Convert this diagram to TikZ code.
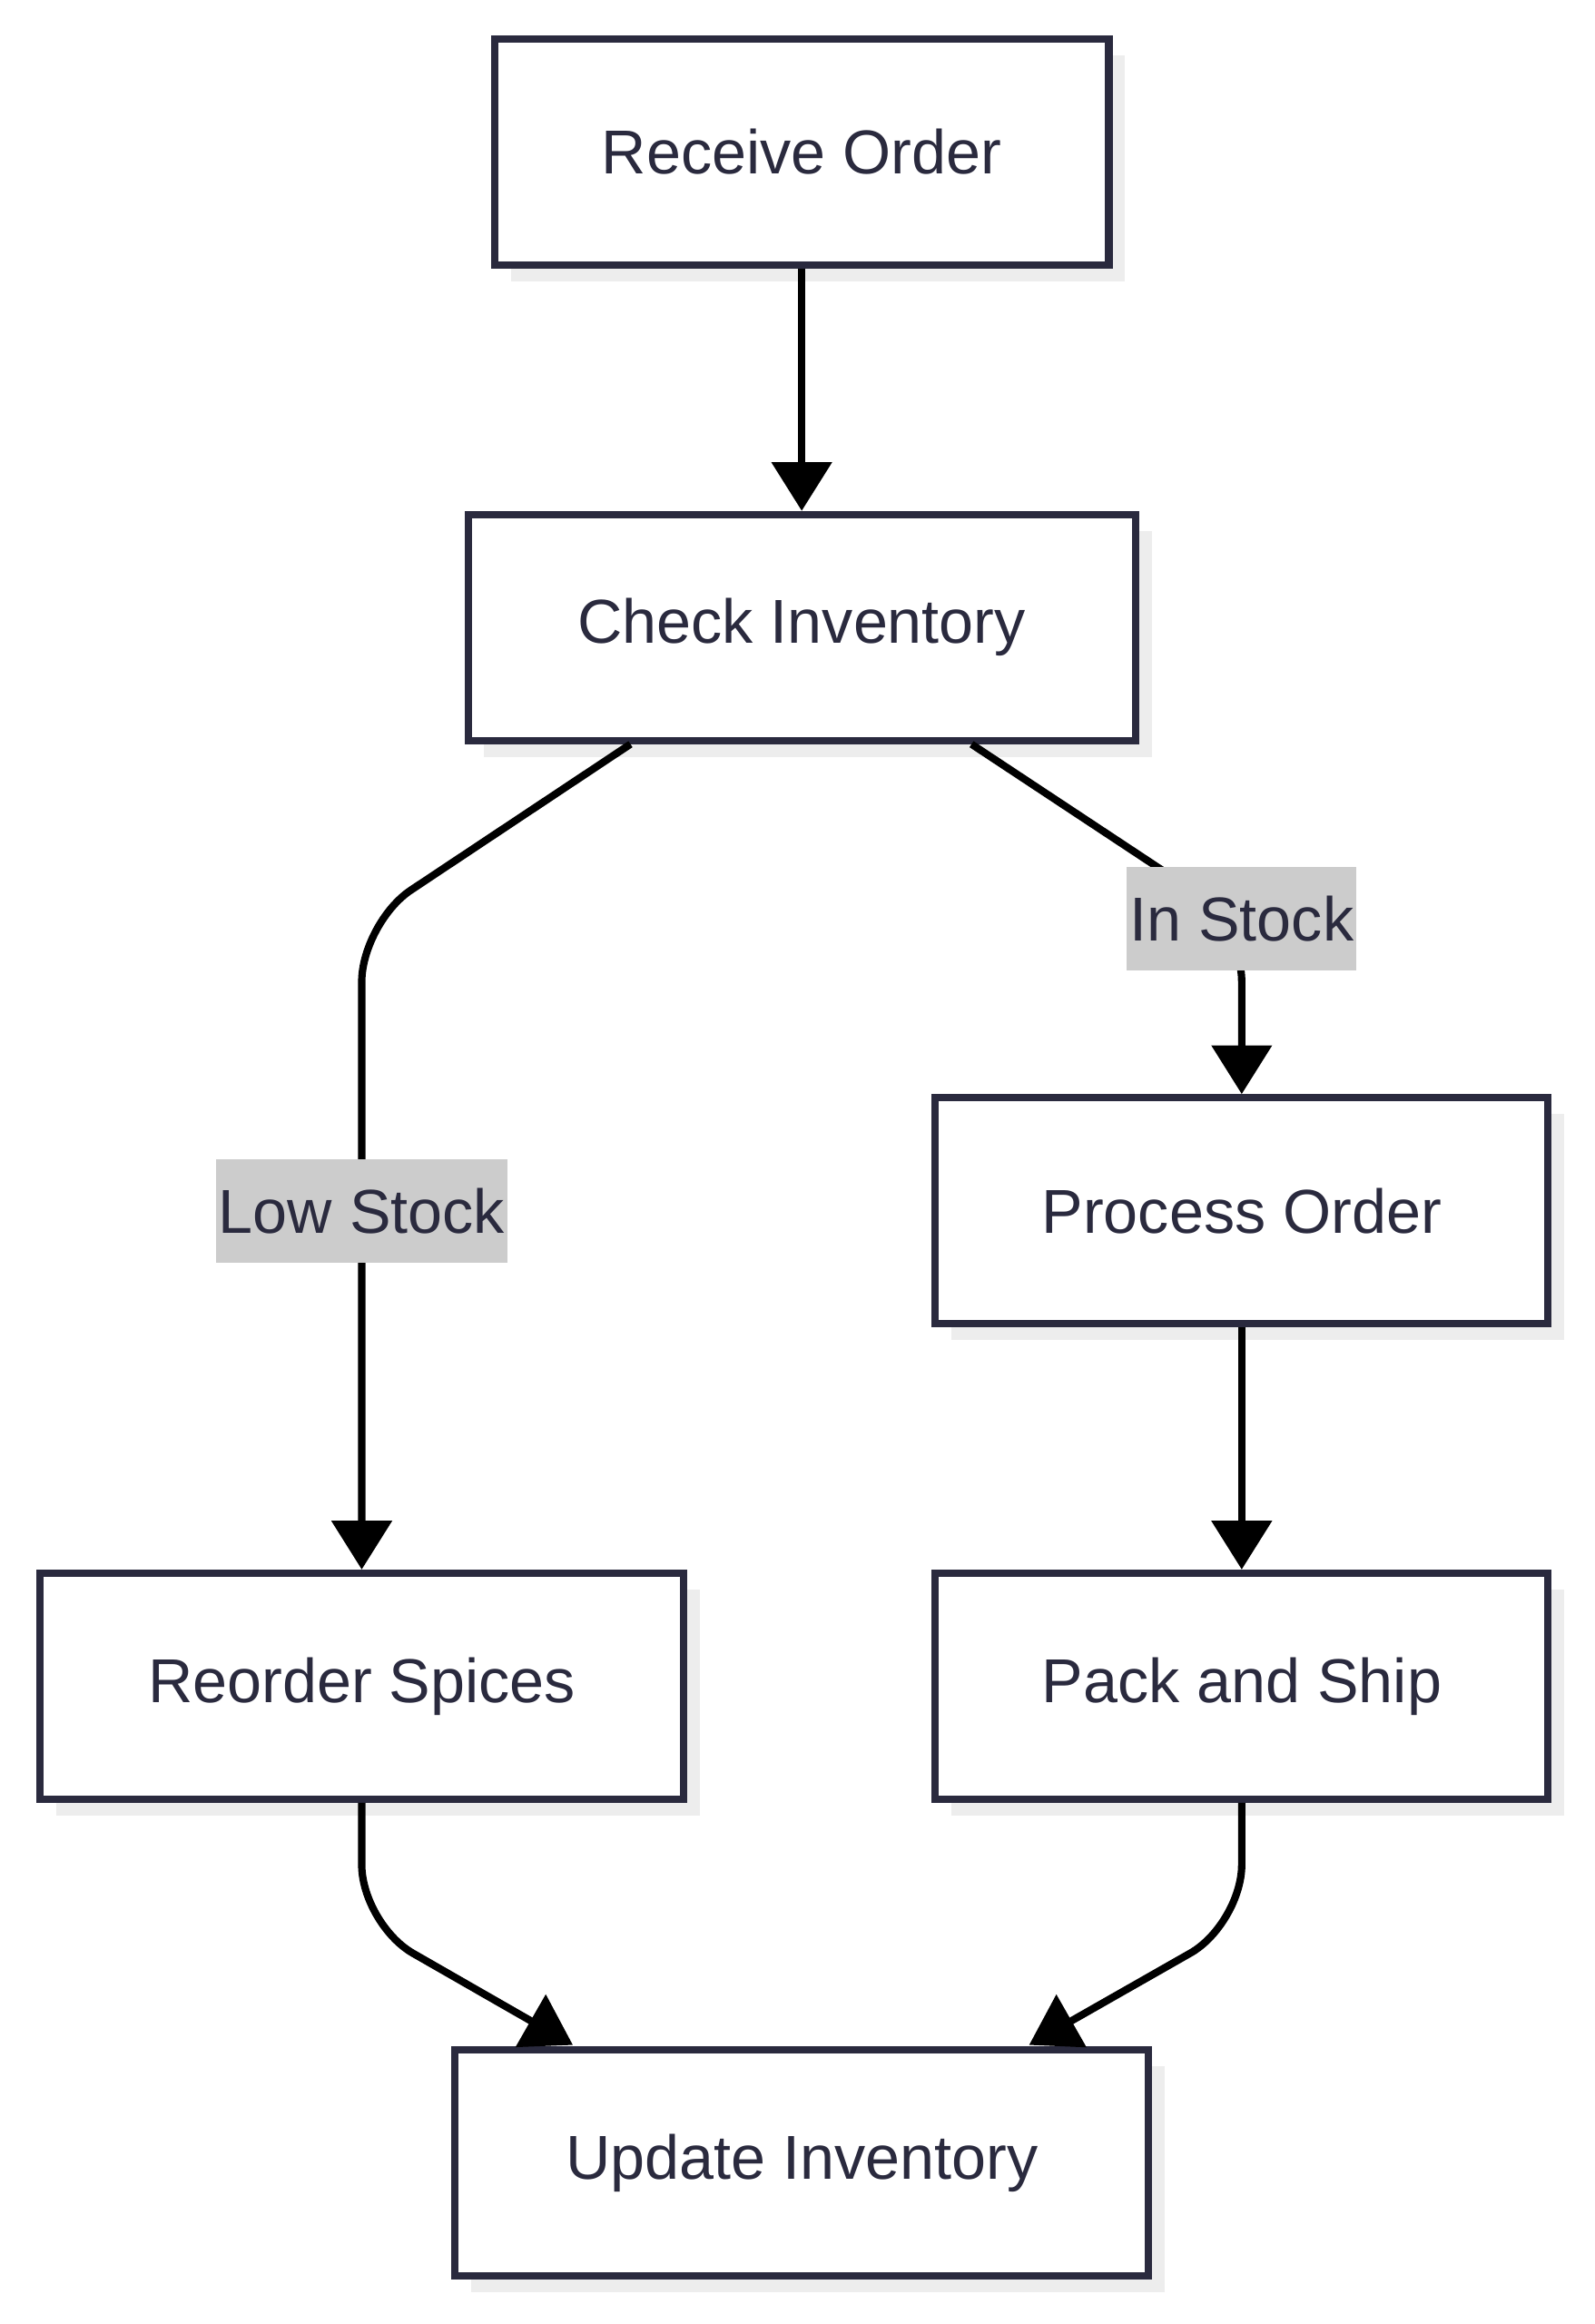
\documentclass[tikz,border=0pt]{standalone}
\usepackage{fontspec}
\setmainfont{Liberation Sans}
\usetikzlibrary{arrows.meta}
\definecolor{txt}{HTML}{2A2A3E}
\begin{document}
\begin{tikzpicture}[x=1pt,y=-1pt,
  box/.style={draw=txt,line width=5pt,fill=white,minimum width=#1,minimum height=153pt,inner sep=0pt,font=\fontsize{42}{50}\selectfont,text=txt},
  shadow/.style={fill=black!7,draw=none},
  lbl/.style={fill=black!20,inner sep=2pt,font=\fontsize{42}{50}\selectfont,text=txt,minimum height=70pt},
  conn/.style={line width=5pt,draw=black,-{Triangle[length=33pt,width=40pt]},rounded corners=40pt}]
\useasboundingbox (0,0) rectangle (1080,1574);
\foreach \x/\y/\w in {543/103/416,543/425/452,841/820/415,245/1142/436,841/1142/415,543/1465/470}
  \fill[shadow] (\x-\w/2+11,\y-76.5+11) rectangle (\x+\w/2+11,\y+76.5+11);
\node[box=416pt] (ro) at (543,103) {Receive Order};
\node[box=452pt] (ci) at (543,425) {Check Inventory};
\node[box=415pt] (po) at (841,820) {Process Order};
\node[box=436pt] (rs) at (245,1142) {Reorder Spices};
\node[box=415pt] (ps) at (841,1142) {Pack and Ship};
\node[box=470pt] (ui) at (543,1465) {Update Inventory};
\coordinate (a1) at (427,504);
\coordinate (a2) at (658,504);
\draw[conn] (ro) -- (ci);
\draw[conn] (a1) -- (245,625) -- (rs.north);
\draw[conn] (a2) -- (841,625) -- (po.north);
\draw[conn] (po) -- (ps);
\draw[conn] (rs.south) -- (245,1303) -- (388,1385);
\draw[conn] (ps.south) -- (841,1303) -- (697,1385);
\node[lbl] (ls) at (245,820) {Low Stock};
\node[lbl] (is) at (841,622) {In Stock};
\end{tikzpicture}
\end{document}
